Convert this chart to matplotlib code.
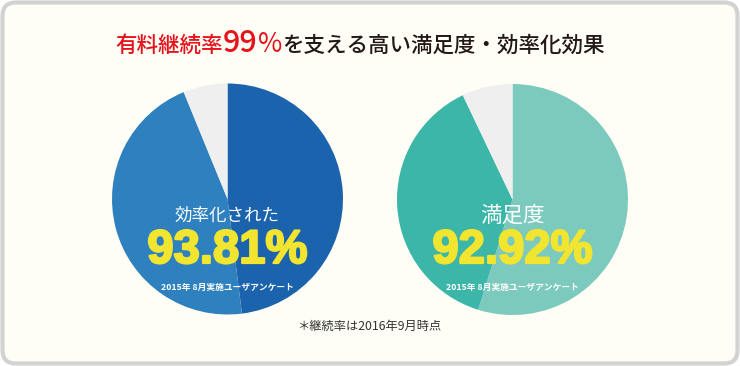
import matplotlib.pyplot as plt
import matplotlib.patheffects as pe
from matplotlib.patches import FancyBboxPatch

plt.rcParams['font.family'] = ['Noto Sans CJK JP', 'DejaVu Sans']

# data
eff_values = [48.0, 45.81, 6.19]
eff_colors = ['#1b63ac', '#2e81be', '#efefef']
sat_values = [54.8, 38.12, 7.08]
sat_colors = ['#7cc9bd', '#3bb6a9', '#efefef']
eff_label = '効率化された'
sat_label = '満足度'
eff_rate = '93.81%'
sat_rate = '92.92%'
survey_note = '2015年 8月実施ユーザアンケート'
footnote = '＊継続率は2016年9月時点'
title_parts = [('有料継続率', '#e5131b', 15.5, 'medium'), ('99', '#e5131b', 22, 'medium'),
               ('%', '#e5131b', 19, 'normal'),
               ('を支える高い満足度・効率化効果', '#231815', 15.5, 'medium')]

W, H = 740, 366
fig = plt.figure(figsize=(W / 100, H / 100), dpi=100)
fig.patch.set_facecolor('white')

# rounded panel
panel = FancyBboxPatch((2.5 / W, 2.5 / H), (W - 5) / W, (H - 5) / H,
                       boxstyle='round,pad=0,rounding_size=0.018',
                       transform=fig.transFigure, facecolor='#fefef6',
                       edgecolor='#d2d2d2', linewidth=3, mutation_aspect=W / H,
                       zorder=-5)
fig.patches.append(panel)


def draw_pie(cx, cy, r, values, colors, label, label_size, rate):
    ax = fig.add_axes([(cx - r) / W, 1 - (cy + r) / H, 2 * r / W, 2 * r / H])
    ax.set_zorder(2)
    ax.pie(values, colors=colors, startangle=90, counterclock=False, radius=1,
           wedgeprops=dict(linewidth=0))
    ax.set_xlim(-1, 1)
    ax.set_ylim(-1, 1)
    ax.axis('off')

    def ypos(py):
        return 1 - (py - cy + r) / r

    ax.text(0, ypos(216), label, color='white', fontsize=label_size,
            ha='center', va='center')
    ax.text(0, ypos(251), rate, color='#f2e530', fontsize=34,
            family='Liberation Sans', weight='bold', ha='center', va='center',
            path_effects=[pe.withStroke(linewidth=1.6, foreground='#f2e530')])
    ax.text(0, ypos(287), survey_note, color='white', fontsize=6.3,
            weight='bold', ha='center', va='center')


draw_pie(227.5, 199, 115.5, eff_values, eff_colors, eff_label, 12.6, eff_rate)
draw_pie(512.5, 199.5, 115.5, sat_values, sat_colors, sat_label, 15.5, sat_rate)

fig.text(369 / W, 1 - 326 / H, footnote, color='#333333', fontsize=8.8,
         ha='center', va='center')

# title, pieces laid out one after another
fig.canvas.draw()
r = fig.canvas.get_renderer()
texts = []
for s, c, fs, wt in title_parts:
    t = fig.text(0, 1 - 52 / H, s, color=c, fontsize=fs, weight=wt,
                 ha='left', va='baseline')
    texts.append(t)
widths = [t.get_window_extent(r).width for t in texts]
x = 360 - sum(widths) / 2
for t, w in zip(texts, widths):
    t.set_x(x / W)
    x += w

fig.savefig('out.png', dpi=100, facecolor=fig.get_facecolor())
